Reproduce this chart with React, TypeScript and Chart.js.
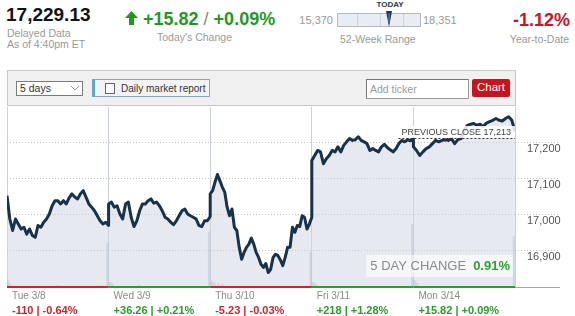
import React, { useEffect, useRef } from "react";
import { Chart, registerables } from "chart.js";

Chart.register(...registerables);

const FONT = 'Arial, "Liberation Sans", Helvetica, sans-serif';
const GREEN = "#2a9d2a";
const RED = "#d3222a";

// ---- header data ----
const lastPrice = 17229.13;
const todayChange = "+15.82";
const todayPct = "+0.09%";
const ytdPct = "-1.12%";
const weekLow = 15370;
const weekHigh = 18351;

// ---- chart data ----
const dayLabels = ["Tue 3/8", "Wed 3/9", "Thu 3/10", "Fri 3/11", "Mon 3/14"];
const dayChanges = ["-110", "+36.26", "-5.23", "+218", "+15.82"];
const dayPcts = ["-0.64%", "+0.21%", "-0.03%", "+1.28%", "+0.09%"];
const previousClose = 17213;
const fiveDayChange = "0.91%";
const yTicks = [16900, 17000, 17100, 17200];
const yMin = 16800;
const yMax = 17300;

const tuePrices = [17053, 16988, 16956, 16988, 16974, 16960, 16965, 16946, 16960, 16942, 16937, 16970, 16965, 16979, 16988, 17002, 17025, 17039, 17039, 17030, 17039, 17030, 17047, 17058, 17049, 17044, 17058, 17067, 17049, 17030, 17021, 17011, 16997, 16983, 16974, 16979, 16970];
const wedPrices = [17030, 17035, 17021, 17025, 17002, 16988, 17030, 17035, 16993, 16967, 16983, 17011, 17030, 17030, 17039, 17044, 17032, 17035, 17025, 17011, 16993, 16988, 16979, 16972, 16983, 16997, 17011, 17016, 17002, 16997, 16993, 16988, 16970, 16967, 16983, 16983, 16995];
const thuPrices = [17058, 17067, 17091, 17112, 17095, 17077, 17063, 17021, 16997, 17016, 16965, 16956, 16909, 16876, 16895, 16909, 16918, 16935, 16918, 16895, 16881, 16862, 16853, 16864, 16839, 16848, 16881, 16890, 16886, 16874, 16858, 16881, 16909, 16909, 16965, 16951, 16970, 16967, 16997, 16993, 16960, 16974, 16993];
const friPrices = [17151, 17165, 17179, 17175, 17142, 17156, 17165, 17179, 17175, 17189, 17175, 17193, 17203, 17212, 17207, 17209, 17217, 17207, 17203, 17198, 17179, 17184, 17179, 17175, 17189, 17196, 17187, 17181, 17175, 17184, 17198, 17207, 17203, 17209, 17206, 17213];
const monPrices = [17189, 17179, 17165, 17175, 17184, 17189, 17198, 17207, 17203, 17207, 17209, 17207, 17212, 17198, 17209, 17212, 17235, 17249, 17252, 17254, 17249, 17252, 17246, 17255, 17259, 17263, 17268, 17263, 17261, 17268, 17273, 17263, 17232];

const volumeTimes = [0.01, 0.03, 0.5, 0.99, 1.015, 1.04, 1.3, 1.99, 2.015, 2.04, 2.08, 2.12, 2.99, 3.015, 3.04, 3.99, 4.015, 4.04, 4.99];
const volumeValues = [13, 6, 3, 98, 10, 6, 3, 122, 12, 8, 6, 5, 76, 9, 5, 138, 14, 7, 111];

const dayPrices = [tuePrices, wedPrices, thuPrices, friPrices, monPrices];

const overlayPlugin = {
  id: "overlays",
  afterDraw(chart: any) {
    const { ctx, chartArea: ca, scales } = chart;
    const xs = scales.x;
    const ys = scales.y;
    ctx.save();

    // previous close label + dashed line
    const yPC = Math.round(ys.getPixelForValue(previousClose)) + 0.5;
    const pcText = `PREVIOUS CLOSE ${previousClose.toLocaleString("en-US")}`;
    ctx.font = `9px ${FONT}`;
    const pcW = ctx.measureText(pcText).width;
    const boxR = ca.right;
    const boxL = boxR - 4 - pcW - 3;
    ctx.fillStyle = "rgba(255,255,255,0.85)";
    ctx.fillRect(boxL, yPC - 12.5, boxR - boxL, 12);
    ctx.fillStyle = "#444";
    ctx.textAlign = "right";
    ctx.textBaseline = "middle";
    ctx.fillText(pcText, boxR - 4, yPC - 6);
    ctx.strokeStyle = "#333";
    ctx.lineWidth = 1;
    ctx.setLineDash([2, 2]);
    ctx.beginPath();
    ctx.moveTo(boxL, yPC);
    ctx.lineTo(ca.right, yPC);
    ctx.stroke();
    ctx.setLineDash([]);

    // 5 day change box
    const t1 = "5 DAY CHANGE";
    ctx.font = `13px ${FONT}`;
    const w1 = ctx.measureText(t1).width;
    ctx.font = `bold 13px ${FONT}`;
    const w2 = ctx.measureText(fiveDayChange).width;
    const bR = ca.right - 2;
    const x2 = bR - 3 - w2;
    const x1 = x2 - 7 - w1;
    const bL = x1 - 4;
    const bTop = ca.bottom - 31.5;
    ctx.fillStyle = "rgba(255,255,255,0.6)";
    ctx.fillRect(bL, bTop, bR - bL, 22);
    ctx.textAlign = "left";
    ctx.font = `13px ${FONT}`;
    ctx.fillStyle = "#8a8a8a";
    ctx.fillText(t1, x1, bTop + 11.5);
    ctx.font = `bold 13px ${FONT}`;
    ctx.fillStyle = "#2ea12e";
    ctx.fillText(fiveDayChange, x2, bTop + 11.5);

    // day colour bars and labels
    ctx.fillStyle = "#a8a8a8";
    ctx.fillRect(ca.right, Math.round(ca.bottom), 45, 1);
    for (let d = 0; d < dayLabels.length; d++) {
      const p0 = xs.getPixelForValue(d);
      const p1 = xs.getPixelForValue(d + 1);
      const up = !dayChanges[d].startsWith("-");
      ctx.fillStyle = up ? GREEN : RED;
      ctx.fillRect(p0, ca.bottom - 0.5, p1 - p0, 2);
      ctx.textAlign = "left";
      ctx.font = `10px ${FONT}`;
      ctx.fillStyle = "#8a8a8a";
      ctx.fillText(dayLabels[d], p0 + 5, ca.bottom + 10);
      ctx.font = `bold 11px ${FONT}`;
      ctx.fillStyle = up ? GREEN : RED;
      ctx.fillText(`${dayChanges[d]} | ${dayPcts[d]}`, p0 + 5, ca.bottom + 24.5);
    }
    ctx.restore();
  },
};

function T(props: any) {
  const { x, xr, cx, cy, size, color, weight, children, spacing } = props;
  const style: any = {
    position: "absolute",
    top: cy - 0.49 * size,
    fontSize: size,
    lineHeight: `${size}px`,
    color,
    fontWeight: weight || "normal",
    whiteSpace: "nowrap",
    fontFamily: FONT,
    letterSpacing: spacing || 0,
  };
  if (x !== undefined) style.left = x;
  if (xr !== undefined) {
    style.right = 575 - xr;
    style.textAlign = "right";
  }
  if (cx !== undefined) {
    style.left = cx - 60;
    style.width = 120;
    style.textAlign = "center";
  }
  return <div style={style}>{children}</div>;
}

export default function App() {
  const ref = useRef<HTMLCanvasElement>(null);

  useEffect(() => {
    document.body.style.margin = "0";
    const lineData = dayPrices.flatMap((arr, d) =>
      arr.map((v, i) => ({ x: d + i / (arr.length - 1), y: v }))
    );
    const volData = volumeTimes.map((t, i) => ({ x: t, y: volumeValues[i] }));
    const chart = new Chart(ref.current as HTMLCanvasElement, {
      type: "line",
      data: {
        datasets: [
          {
            type: "line",
            data: lineData,
            borderColor: "#17324a",
            borderWidth: 3,
            borderJoinStyle: "round",
            pointRadius: 0,
            tension: 0,
            fill: "start",
            backgroundColor: "rgba(205,213,225,0.5)",
            order: 1,
            yAxisID: "y",
          } as any,
          {
            type: "bar",
            data: volData,
            backgroundColor: "rgba(160,180,200,0.5)",
            barThickness: 2,
            order: 2,
            yAxisID: "yVol",
          } as any,
        ],
      },
      options: {
        animation: false,
        responsive: false,
        maintainAspectRatio: false,
        devicePixelRatio: 1,
        events: [],
        layout: { padding: { left: 7, top: 2, right: 0, bottom: 29.5 } },
        plugins: { legend: { display: false }, tooltip: { enabled: false } },
        scales: {
          x: {
            type: "linear",
            min: 0,
            max: 5,
            offset: false,
            ticks: { display: false, stepSize: 1 },
            grid: { color: "#cad1d9", drawTicks: false, offset: false },
            border: { display: false },
          },
          y: {
            position: "right",
            min: yMin,
            max: yMax,
            afterBuildTicks: (s: any) => {
              s.ticks = yTicks.map((v) => ({ value: v }));
            },
            afterFit: (s: any) => {
              s.width = 60;
            },
            grid: {
              color: "#c2c2c2",
              tickLength: 45,
              tickColor: "#c2c2c2",
              tickBorderDash: [1, 2],
            },
            border: { display: false, dash: [1, 2] },
            ticks: {
              padding: -33,
              labelOffset: 6,
              color: "#555",
              font: { family: FONT, size: 11 },
              callback: (v: any) => Number(v).toLocaleString("en-US"),
            },
          },
          yVol: { display: false, min: 0, max: 400 },
        },
      } as any,
      plugins: [overlayPlugin],
    });
    return () => chart.destroy();
  }, []);

  const frac = (lastPrice - weekLow) / (weekHigh - weekLow);
  const barL = 337;
  const barW = 84;
  const mx = barL + frac * barW;

  return (
    <div style={{ position: "relative", width: 575, height: 316, background: "#fff", overflow: "hidden", fontFamily: FONT }}>
      {/* header */}
      <T x={6} cy={14.5} size={19} weight="bold" color="#111">
        {lastPrice.toLocaleString("en-US", { minimumFractionDigits: 2 })}
      </T>
      <T x={7} cy={33.3} size={10.5} color="#999">Delayed Data</T>
      <T x={7} cy={44.3} size={10.5} color="#999">As of 4:40pm ET</T>
      <svg style={{ position: "absolute", left: 125, top: 11 }} width={14} height={15}>
        <polygon points="6.5,0 13,7 9,7 9,14 4,14 4,7 0,7" fill="#1f9a1f" />
      </svg>
      <T x={143} cy={19.2} size={18} weight="bold" color="#1f9a1f">
        {todayChange} <span style={{ color: "#888", fontWeight: "normal" }}>/</span> {todayPct}
      </T>
      <T x={157} cy={37.5} size={10.5} color="#999">Today's Change</T>

      <T cx={390} cy={5} size={8} weight="bold" color="#1d3a5c">TODAY</T>
      <T xr={333} cy={20} size={11} color="#999">{weekLow.toLocaleString("en-US")}</T>
      <div style={{ position: "absolute", left: barL, top: 13, width: barW, height: 14, boxSizing: "border-box", border: "1px solid #b6bac0", background: "#e8edf3" }} />
      {[20, 43, 66].map((o) => (
        <div key={o} style={{ position: "absolute", left: barL + o, top: 14, width: 1, height: 12, background: "#cdd3da" }} />
      ))}
      <svg style={{ position: "absolute", left: mx - 4, top: 10 }} width={8} height={18}>
        <polygon points="1,1 7,1 4,17" fill="#1c3856" />
        <line x1="4" y1="3" x2="4" y2="12" stroke="#6f8fb0" strokeWidth="1" />
      </svg>
      <T x={423} cy={20} size={11} color="#999">{weekHigh.toLocaleString("en-US")}</T>
      <T x={340} cy={39} size={10.5} color="#999">52-Week Range</T>

      <T xr={570} cy={20} size={18} weight="bold" color="#d0141c">{ytdPct}</T>
      <T xr={569} cy={39} size={10.5} color="#999">Year-to-Date</T>

      {/* toolbar */}
      <div style={{ position: "absolute", left: 7, top: 70, width: 509, height: 36, boxSizing: "border-box", border: "1px solid #c8c8c8", background: "#f0f0f0" }} />
      <div style={{ position: "absolute", left: 16, top: 81, width: 67, height: 15, boxSizing: "border-box", border: "1px solid #7a7a7a", background: "#fff" }} />
      <T x={20} cy={88.5} size={10.5} color="#333">5 days</T>
      <svg style={{ position: "absolute", left: 70, top: 85 }} width={10} height={6}>
        <polyline points="1,1 5,5 9,1" fill="none" stroke="#999" strokeWidth="1" />
      </svg>
      <div style={{ position: "absolute", left: 92, top: 79, width: 118, height: 18, boxSizing: "border-box", border: "1px solid #8ea3ba", borderLeft: "3px solid #5aa8d6", background: "#f3f3f3" }} />
      <div style={{ position: "absolute", left: 105, top: 83, width: 10, height: 11, boxSizing: "border-box", border: "1px solid #666", background: "#fff" }} />
      <T x={121} cy={88.5} size={10} color="#333">Daily market report</T>

      <div style={{ position: "absolute", left: 366, top: 79, width: 103, height: 20, boxSizing: "border-box", border: "1px solid #9a9a9a", borderTopColor: "#777", borderLeftColor: "#777", background: "#fff" }} />
      <T x={370} cy={89.5} size={10.5} color="#9a9a9a">Add ticker</T>
      <div style={{ position: "absolute", left: 472, top: 79, width: 38, height: 18, borderRadius: 2, background: "#c8141c" }} />
      <T cx={491} cy={88} size={11.5} color="#fff">Chart</T>

      <canvas ref={ref} width={575} height={211} style={{ position: "absolute", left: 0, top: 105 }} />
    </div>
  );
}
